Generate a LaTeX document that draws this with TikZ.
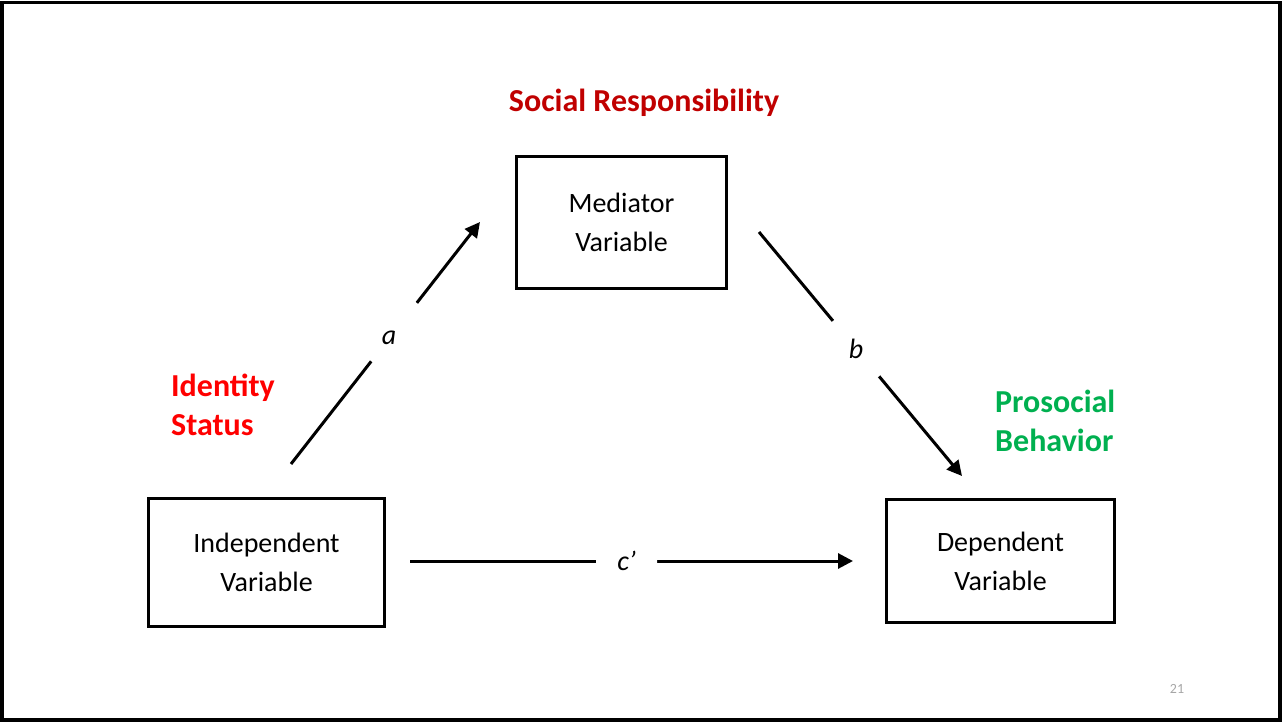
\documentclass[tikz,border=0pt]{standalone}
\usepackage{fontspec}
\setmainfont{Carlito}
\usetikzlibrary{arrows.meta}
\definecolor{srred}{RGB}{192,0,0}
\definecolor{idred}{RGB}{255,0,0}
\definecolor{prgreen}{RGB}{0,176,80}
\begin{document}
\begin{tikzpicture}[x=1pt,y=-1pt,
  box/.style={draw, line width=3pt, inner sep=0pt, align=center, font=\fontsize{28}{39}\selectfont},
  conn/.style={line width=3pt, -{Triangle[length=15pt,width=15pt]}},
  lab/.style={circle, fill=white, inner sep=0pt, font=\fontsize{28}{30}\selectfont\itshape},
  head/.style={font=\fontsize{32}{39}\selectfont\bfseries, inner sep=0pt, align=left}]
\useasboundingbox (0,0) rectangle (1283,722);
\draw[line width=3.5pt] (2,2.5) rectangle (1280,720);
% boxes
\node[box, minimum width=210pt, minimum height=132pt] (med) at (621.5,222.5) {Mediator\\Variable};
\node[box, minimum width=236pt, minimum height=128pt] (ind) at (266.5,562.5) {Independent\\Variable};
\node[box, minimum width=228pt, minimum height=123pt] (dep) at (1000.5,561) {Dependent\\Variable};
% headings
\node[head, text=srred, anchor=center] (sr) at (644,103) {Social Responsibility};
\node[head, text=idred, anchor=west] (is) at (171,405) {Identity\\Status};
\node[head, text=prgreen, anchor=west] (pb) at (995,421) {Prosocial\\Behavior};
% connector end points
\coordinate (aS) at (291,464);
\coordinate (aE) at (480,222);
\coordinate (bS) at (759,232);
\coordinate (bE) at (962,476);
\coordinate (cS) at (410,561);
\coordinate (cE) at (853,561);
\draw[conn] (aS) -- node[lab, pos=0.545, minimum size=74pt] (la) {\raisebox{-6pt}[\height][\depth]{\kern-5pt\makebox[0pt]{a}\kern5pt}} (aE);
\draw[conn] (bS) -- node[lab, pos=0.478, minimum size=72pt] (lb) {b} (bE);
\draw[conn] (cS) -- node[lab, pos=0.489, minimum size=61pt] (lc) {c’} (cE);
\node[text=black!35, font=\fontsize{14}{14}\selectfont] (pg) at (1177,689) {21};
\end{tikzpicture}
\end{document}
